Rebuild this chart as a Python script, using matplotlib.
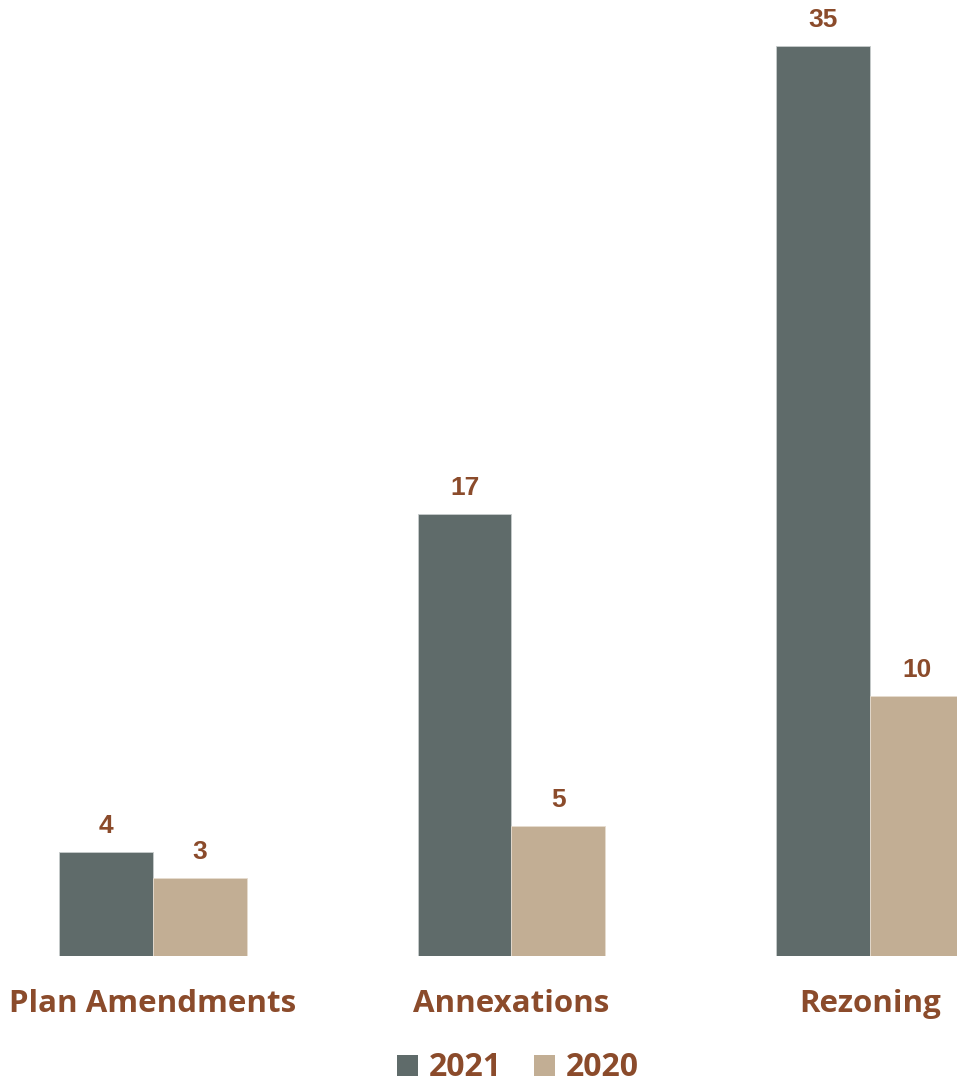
import matplotlib.pyplot as plt
from matplotlib.patches import Patch
import numpy as np

categories = ['Plan Amendments', 'Annexations', 'Rezoning']
series_names = ['2021', '2020']
values_2021 = [4, 17, 35]
values_2020 = [3, 5, 10]

col_2021 = '#5F6B6A'
col_2020 = '#C2AE94'
txt_col = '#8B4B2B'

fig = plt.figure(figsize=(9.57, 10.85), dpi=100)
ax = fig.add_axes([0, 129 / 1085, 1, 956 / 1085])

x = np.arange(len(categories))
w = 0.261
b1 = ax.bar(x - w / 2, values_2021, w, color=col_2021, edgecolor='#C8CDCC', linewidth=0.6)
b2 = ax.bar(x + w / 2, values_2020, w, color=col_2020, edgecolor='#E6DCCF', linewidth=0.6)

# value labels above each bar
for bars, vals in ((b1, values_2021), (b2, values_2020)):
    for r, v in zip(bars, vals):
        ax.annotate(str(v), (r.get_x() + r.get_width() / 2, r.get_height()),
                    xytext=(0, 10), textcoords='offset points', ha='center', va='bottom',
                    fontsize=19, fontweight='bold', color=txt_col, family='Liberation Sans')

ax.set_xlim(-0.427, 2.243)
ax.set_ylim(0, 36.77)
ax.axis('off')

# category names under the groups
for xi, name in zip(x, categories):
    fig.text(xi * 358.5 / 957 + 153 / 957, 1 - 1004 / 1085, name, ha='center', va='center',
             fontsize=22.5, fontweight='bold', color=txt_col, family='Open Sans')

handles = [Patch(facecolor=col_2021), Patch(facecolor=col_2020)]
leg = fig.legend(handles, series_names, loc='center', bbox_to_anchor=(518 / 957, 1 - 1068 / 1085),
                 ncol=2, frameon=False, handlelength=0.66, handleheight=0.66, handletextpad=0.35,
                 columnspacing=1.0, borderpad=0, prop={'family': 'Open Sans', 'weight': 'bold', 'size': 23})
for t in leg.get_texts():
    t.set_color(txt_col)

fig.savefig('out.png', dpi=100)
